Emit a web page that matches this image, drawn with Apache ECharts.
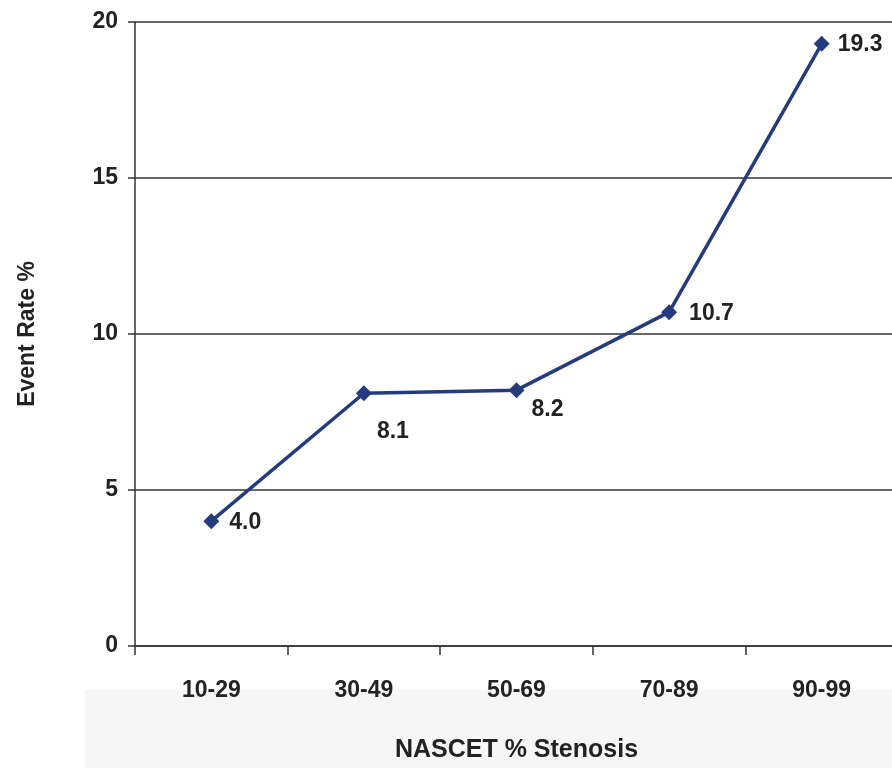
<!DOCTYPE html>
<html><head><meta charset="utf-8">
<script src="https://cdn.jsdelivr.net/npm/echarts@6/dist/echarts.min.js"></script>
<style>html,body{margin:0;padding:0;overflow:hidden;background:#fff;width:892px;height:768px}#c{width:900px;height:768px}</style>
</head><body><div id="c"></div>
<script>
const categories = ['10-29', '30-49', '50-69', '70-89', '90-99'];
const eventRate = [4.0, 8.1, 8.2, 10.7, 19.3];
const yTicks = [0, 5, 10, 15, 20];

const labelOffsets = [[2, 1], [-3, 38], [-1, 19], [4, 1], [0, 1]];
const font = 'Liberation Sans, Arial, sans-serif';
const chart = echarts.init(document.getElementById('c'), null, {renderer: 'canvas'});
chart.setOption({
  animation: false,
  backgroundColor: '#fff',
  graphic: [{type: 'rect', z: -10, shape: {x: 85, y: 690, width: 820, height: 80}, style: {fill: '#f6f6f6'}}],
  grid: {left: 135, right: 2, top: 22, bottom: 120},
  xAxis: {
    type: 'category', data: categories, boundaryGap: true,
    name: 'NASCET % Stenosis', nameLocation: 'middle', nameGap: 92,
    nameTextStyle: {fontFamily: font, fontWeight: 'bold', fontSize: 25, color: '#222'},
    axisLine: {lineStyle: {color: '#333', width: 1.5}},
    axisTick: {show: true, length: 9, inside: false, lineStyle: {color: '#333', width: 1.5}},
    axisLabel: {fontFamily: font, fontWeight: 'bold', fontSize: 23, color: '#222', margin: 33}
  },
  yAxis: {
    type: 'value', min: 0, max: 20, interval: 5,
    name: 'Event Rate %', nameLocation: 'middle', nameGap: 96, nameRotate: 90,
    nameTextStyle: {fontFamily: font, fontWeight: 'bold', fontSize: 23, color: '#222'},
    axisLine: {show: true, lineStyle: {color: '#333', width: 1.5}},
    axisTick: {show: true, length: 7, lineStyle: {color: '#333', width: 1.5}},
    axisLabel: {fontFamily: font, fontWeight: 'bold', fontSize: 23, color: '#222', margin: 17,
      formatter: v => yTicks.includes(v) ? String(v) : ''},
    splitLine: {show: true, lineStyle: {color: '#333', width: 1.5}}
  },
  series: [{
    type: 'line',
    data: eventRate.map((v, i) => ({value: v, label: {offset: labelOffsets[i]}})),
    symbol: 'diamond', symbolSize: 16,
    lineStyle: {color: '#243b7e', width: 3.5},
    itemStyle: {color: '#243b7e'},
    label: {show: true, position: 'right', fontFamily: font, fontWeight: 'bold', fontSize: 23, color: '#222', distance: 8,
      formatter: p => p.value.toFixed(1)}
  }]
});
</script></body></html>
